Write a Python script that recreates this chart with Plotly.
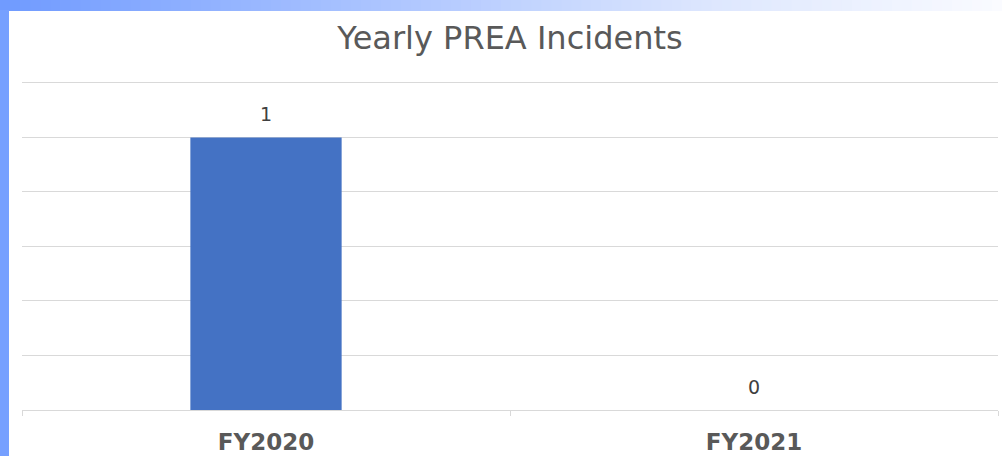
import plotly.graph_objects as go

categories = ["FY2020", "FY2021"]
values = [1, 0]
title_text = "Yearly PREA Incidents"

fig = go.Figure()
fig.add_trace(go.Bar(x=categories, y=values, marker_color="#4472C4",
                     marker_line_width=0, width=0.31, hoverinfo="skip"))

for c, v in zip(categories, values):
    fig.add_annotation(x=c, y=v, text=str(v), showarrow=False, yanchor="bottom",
                       yshift=10, font=dict(family="DejaVu Sans", size=19, color="#404040"))

TOP = 80
shapes = []
stops = [(0, (111, 154, 255)), (0.3, (160, 188, 255)), (0.7, (220, 230, 254)), (1.0, (250, 251, 255))]
def col(t):
    for (a, ca), (b, cb) in zip(stops[:-1], stops[1:]):
        if a <= t <= b:
            f = (t - a) / (b - a)
            return "rgb(%d,%d,%d)" % tuple(round(ca[i] + (cb[i] - ca[i]) * f) for i in range(3))
    return "rgb(250,251,255)"
N = 100
W = 1002
for i in range(N):
    x0 = W * i / N
    x1 = W * (i + 1) / N + 1
    shapes.append(dict(type="rect", xref="paper", yref="paper", xsizemode="pixel", ysizemode="pixel",
                       xanchor=0, yanchor=1, x0=x0 - 22, x1=x1 - 22, y0=TOP, y1=TOP - 11,
                       fillcolor=col((i + 0.5) / N), line_width=0, layer="above"))
shapes.append(dict(type="rect", xref="paper", yref="paper", xsizemode="pixel", ysizemode="pixel",
                   xanchor=0, yanchor=0, x0=-22, x1=-13, y0=-46, y1=400,
                   fillcolor="rgb(118,160,255)", line_width=0, layer="above"))

fig.update_layout(
    width=1002, height=459,
    margin=dict(l=22, r=4, t=TOP, b=46),
    paper_bgcolor="white", plot_bgcolor="white",
    showlegend=False,
    shapes=shapes,
    title=dict(text=title_text, xref="paper", x=0.5, xanchor="center", y=1 - 38 / 459, yanchor="middle",
               font=dict(family="DejaVu Sans", size=32, color="#595959")),
    xaxis=dict(showline=True, linecolor="#d9d9d9", linewidth=1, ticks="outside", ticklen=5,
               tickcolor="#d9d9d9", tickson="boundaries", ticklabelstandoff=11,
               tickfont=dict(family="DejaVu Sans", size=23, color="#595959", weight="bold")),
    yaxis=dict(range=[0, 333 / 275], dtick=0.2, showticklabels=False, gridcolor="#d9d9d9",
               gridwidth=1, zeroline=False, showline=False),
)

fig.write_html("out.html", config={"displayModeBar": False},
               post_script="document.body.style.margin='0';document.documentElement.style.margin='0';")
